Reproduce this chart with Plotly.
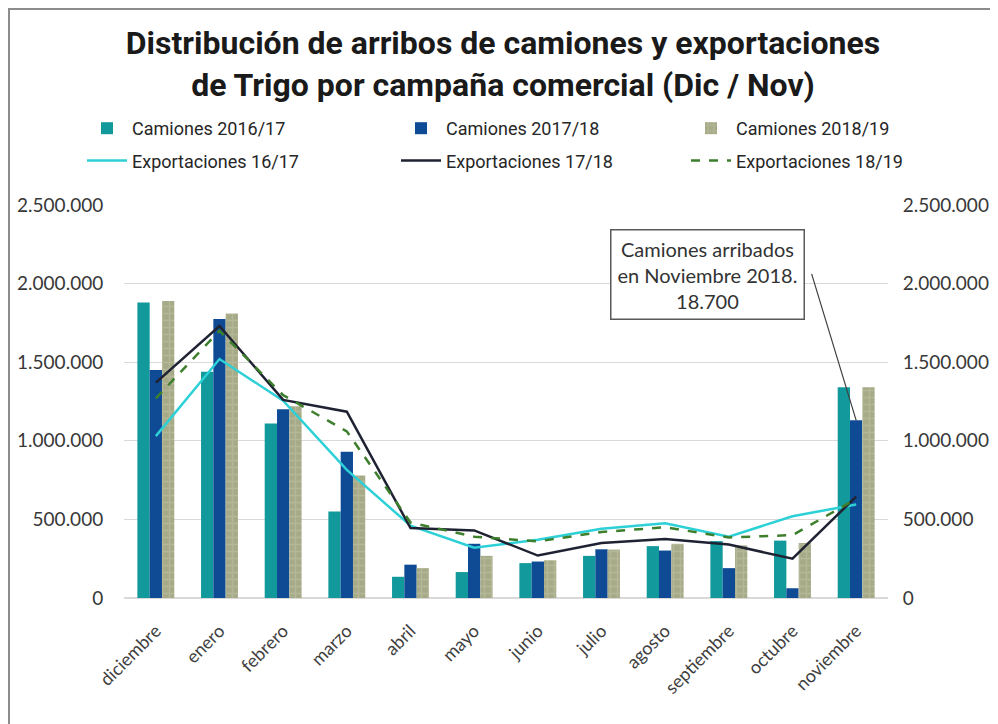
import plotly.graph_objects as go

months = ["diciembre", "enero", "febrero", "marzo", "abril", "mayo", "junio",
          "julio", "agosto", "septiembre", "octubre", "noviembre"]
camiones_1617 = [1880000, 1440000, 1110000, 550000, 135000, 165000, 222000, 268000, 330000, 362000, 365000, 1340000]
camiones_1718 = [1450000, 1775000, 1200000, 930000, 212000, 345000, 232000, 310000, 302000, 190000, 62000, 1130000]
camiones_1819 = [1890000, 1810000, 1220000, 780000, 190000, 268000, 240000, 308000, 345000, 335000, 350000, 1340000]
export_1617 = [1030000, 1520000, 1255000, 815000, 460000, 320000, 370000, 440000, 475000, 390000, 520000, 595000]
export_1718 = [1370000, 1730000, 1260000, 1185000, 445000, 430000, 270000, 350000, 375000, 340000, 250000, 645000]
export_1819 = [1270000, 1700000, 1290000, 1060000, 480000, 390000, 360000, 420000, 450000, 385000, 400000, 630000]
yticks = [0, 500000, 1000000, 1500000, 2000000, 2500000]

# page body has an 8px margin, so the figure is drawn offset by 8px
OFF = 8
W, H = 998 - OFF, 724 - OFF
L, R, T, B = 116, 110, 197, 126
PW, PH = W - L - R, H - T - B


def px(x):
    return (x - OFF - L) / PW


def py(y):
    return (H - B - (y - OFF)) / PH


def cx(x):
    return (x - OFF) / W


def cy(y):
    return 1 - (y - OFF) / H


TITLE_FONT = "Roboto, Liberation Sans, sans-serif"
LEG_FONT = "Roboto, Liberation Sans, sans-serif"
BODY = "Lato, Liberation Sans, sans-serif"

fig = go.Figure()
fig.add_trace(go.Bar(x=months, y=camiones_1617, name="Camiones 2016/17", legend="legend",
                     legendgroup="a1", marker=dict(color="#12999b", line=dict(width=0))))
fig.add_trace(go.Bar(x=months, y=camiones_1718, name="Camiones 2017/18", legend="legend2",
                     legendgroup="b1", marker=dict(color="#0f4b95", line=dict(width=0))))
fig.add_trace(go.Bar(x=months, y=camiones_1819, name="Camiones 2018/19", legend="legend3",
                     legendgroup="c1",
                     marker=dict(color="#a7aa87", line=dict(width=0),
                                 pattern=dict(shape="+", fgcolor="#c3c5a9", size=7, solidity=0.35))))
fig.add_trace(go.Scatter(x=months, y=export_1617, name="Exportaciones 16/17", mode="lines",
                         legend="legend", legendgroup="a2",
                         line=dict(color="#2cd0d6", width=2.5), yaxis="y2"))
fig.add_trace(go.Scatter(x=months, y=export_1718, name="Exportaciones 17/18", mode="lines",
                         legend="legend2", legendgroup="b2",
                         line=dict(color="#1e2232", width=2.5), yaxis="y2"))
fig.add_trace(go.Scatter(x=months, y=export_1819, name="Exportaciones 18/19", mode="lines",
                         legend="legend3", legendgroup="c2",
                         line=dict(color="#3d7f2c", width=2.5, dash="dash"), yaxis="y2"))


def leg(xs):
    return dict(orientation="v", x=cx(xs), xref="container", xanchor="left",
                y=cy(110), yref="container", yanchor="top",
                traceorder="grouped", bgcolor="rgba(0,0,0,0)", tracegroupgap=6,
                font=dict(family=LEG_FONT, size=18, color="#262626"), itemwidth=40)


fig.update_layout(
    width=W, height=H,
    margin=dict(l=L, r=R, t=T, b=B, autoexpand=False),
    paper_bgcolor="white", plot_bgcolor="white",
    separators=",.",
    barmode="group", bargap=0.42, bargroupgap=0,
    title=dict(text="<b>Distribución de arribos de camiones y exportaciones<br>de Trigo por campaña comercial (Dic / Nov)</b>",
               x=0.5, xanchor="center", xref="container",
               y=1 - (54 - OFF) / H, yanchor="middle", yref="container",
               font=dict(family=TITLE_FONT, size=32, color="#1a1a1a")),
    legend=leg(82),
    legend2=leg(396),
    legend3=leg(686),
    xaxis=dict(tickangle=-45, tickfont=dict(family=BODY, size=18, color="#404040"),
               showgrid=False, showline=False, ticks="", ticklabelstandoff=18),
    yaxis=dict(range=[0, 2500000], tickvals=yticks, tickformat=",d",
               tickfont=dict(family=BODY, size=19, color="#383838"),
               showgrid=True, gridcolor="#d9d9d9", gridwidth=1,
               zeroline=True, zerolinecolor="#d9d9d9",
               ticks="outside", ticklen=16, tickcolor="rgba(0,0,0,0)"),
    yaxis2=dict(range=[0, 2500000], tickvals=yticks, tickformat=",d", overlaying="y", side="right",
                tickfont=dict(family=BODY, size=19, color="#383838"),
                showgrid=False, zeroline=False,
                ticks="outside", ticklen=10, tickcolor="rgba(0,0,0,0)"),
    shapes=[dict(type="rect", xref="paper", yref="paper",
                 x0=px(9), x1=px(1010), y0=py(740), y1=py(9),
                 line=dict(color="#8c8c8c", width=2), fillcolor="rgba(0,0,0,0)", layer="below")],
    annotations=[
        dict(x="noviembre", y=camiones_1718[-1], xref="x", yref="y",
             text="", showarrow=True, arrowhead=0, arrowwidth=1.2, arrowcolor="#404040",
             ax=-45, ay=-148),
        dict(x="noviembre", y=camiones_1718[-1], xref="x", yref="y",
             text="Camiones arribados<br>en Noviembre 2018.<br>18.700",
             showarrow=True, arrowwidth=0.1, arrowcolor="rgba(0,0,0,0)",
             ax=-149, ay=-146, bgcolor="white", bordercolor="#595959", borderwidth=1.5,
             borderpad=6, font=dict(family=BODY, size=20, color="#333333")),
    ],
)

fig.write_html("out.html")
